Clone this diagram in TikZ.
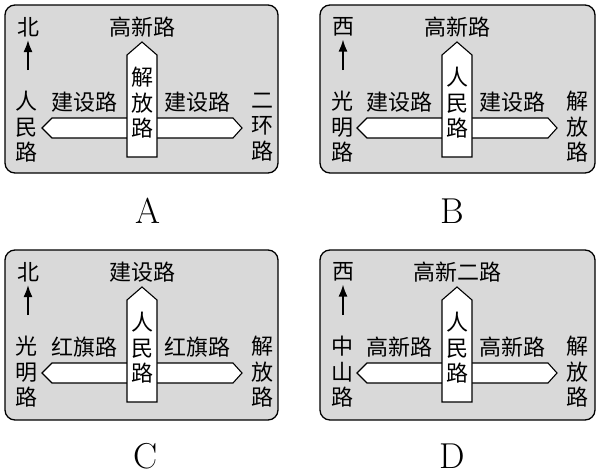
\documentclass[tikz,border=0pt]{standalone}
\usepackage{fontspec}
\newfontfamily\cjk{Noto Sans CJK SC}
\usetikzlibrary{arrows.meta}

\begin{document}
\begin{tikzpicture}[
  x=1pt, y=-1pt,
  panel/.style={draw, line width=1.3pt, fill=gray!30, rounded corners=10pt},
  road/.style={draw, line width=1.1pt, fill=white},
  street/.style={font=\cjk\fontsize{22}{25.5}\selectfont, inner sep=0pt, align=center},
  letter/.style={font=\fontsize{36}{38}\selectfont, inner sep=0pt},
  pointer/.style={-{Latex[length=12pt,width=9pt]}, line width=1.6pt, shorten >=3pt}
]
\useasboundingbox (0,0) rectangle (600,474);

% A
\begin{scope}[shift={(5,5)}]
\draw[panel] (0,0) rectangle (273,168);
\draw[road] (37,123) -- (47,113) -- (228,113) -- (237,123) -- (228,133) -- (47,133) -- cycle;
\draw[road] (122,152) -- (122,50) -- (137,37) -- (152,50) -- (152,152) -- cycle;
\node[street] (dirA)   at (23,22)  {北};
\coordinate (tailA)  at (23,65);
\draw[pointer] (tailA) -- (dirA.south);
\node[street] (topA)   at (137,22) {高新路};
\node[street] (westA)  at (79,97)  {建设路};
\node[street] (eastA)  at (192,97) {建设路};
\node[street] (mainA)  at (137,98) {解\\放\\路};
\node[street] (leftA)  at (22,122) {人\\民\\路};
\node[street] (rightA) at (257,122) {二\\环\\路};
\end{scope}

% B
\begin{scope}[shift={(320,5)}]
\draw[panel] (0,0) rectangle (275,168);
\draw[road] (37,123) -- (47,113) -- (228,113) -- (237,123) -- (228,133) -- (47,133) -- cycle;
\draw[road] (122,152) -- (122,50) -- (137,37) -- (152,50) -- (152,152) -- cycle;
\node[street] (dirB)   at (23,22)  {西};
\coordinate (tailB)  at (23,65);
\draw[pointer] (tailB) -- (dirB.south);
\node[street] (topB)   at (137,22) {高新路};
\node[street] (westB)  at (79,97)  {建设路};
\node[street] (eastB)  at (192,97) {建设路};
\node[street] (mainB)  at (137,98) {人\\民\\路};
\node[street] (leftB)  at (22,122) {光\\明\\路};
\node[street] (rightB) at (257,122) {解\\放\\路};
\end{scope}

% C
\begin{scope}[shift={(5,250)}]
\draw[panel] (0,0) rectangle (273,170);
\draw[road] (37,123) -- (47,113) -- (228,113) -- (237,123) -- (228,133) -- (47,133) -- cycle;
\draw[road] (122,152) -- (122,50) -- (137,37) -- (152,50) -- (152,152) -- cycle;
\node[street] (dirC)   at (23,22)  {北};
\coordinate (tailC)  at (23,65);
\draw[pointer] (tailC) -- (dirC.south);
\node[street] (topC)   at (137,22) {建设路};
\node[street] (westC)  at (79,97)  {红旗路};
\node[street] (eastC)  at (192,97) {红旗路};
\node[street] (mainC)  at (137,98) {人\\民\\路};
\node[street] (leftC)  at (22,122) {光\\明\\路};
\node[street] (rightC) at (257,122) {解\\放\\路};
\end{scope}

% D
\begin{scope}[shift={(320,250)}]
\draw[panel] (0,0) rectangle (275,170);
\draw[road] (37,123) -- (47,113) -- (228,113) -- (237,123) -- (228,133) -- (47,133) -- cycle;
\draw[road] (122,152) -- (122,50) -- (137,37) -- (152,50) -- (152,152) -- cycle;
\node[street] (dirD)   at (23,22)  {西};
\coordinate (tailD)  at (23,65);
\draw[pointer] (tailD) -- (dirD.south);
\node[street] (topD)   at (137,22) {高新二路};
\node[street] (westD)  at (79,97)  {高新路};
\node[street] (eastD)  at (192,97) {高新路};
\node[street] (mainD)  at (137,98) {人\\民\\路};
\node[street] (leftD)  at (22,122) {中\\山\\路};
\node[street] (rightD) at (257,122) {解\\放\\路};
\end{scope}

\node[letter] (labA) at (148,211) {A};
\node[letter] (labB) at (452,211) {B};
\node[letter] (labC) at (146,456) {C};
\node[letter] (labD) at (452,456) {D};
\end{tikzpicture}
\end{document}
